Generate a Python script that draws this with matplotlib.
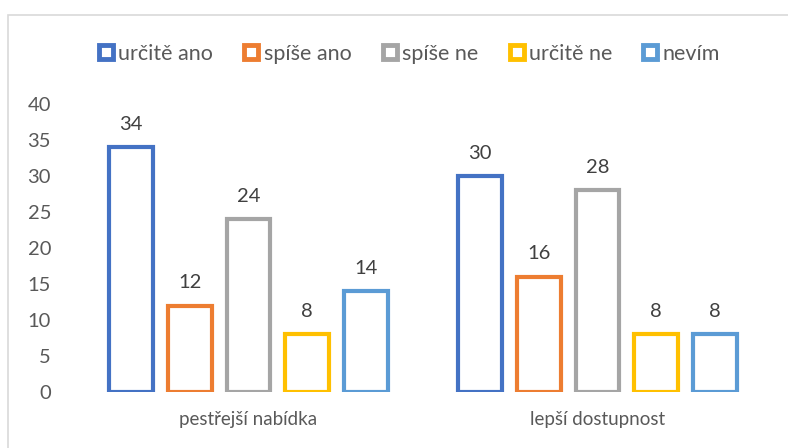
import numpy as np
import matplotlib.pyplot as plt
from matplotlib.lines import Line2D
from matplotlib.patches import Rectangle

plt.rcParams['font.family'] = ['Lato', 'DejaVu Sans']

kategorie = ['pestřejší nabídka', 'lepší dostupnost']
odpovedi = ['určitě ano', 'spíše ano', 'spíše ne', 'určitě ne', 'nevím']
hodnoty = [
    [34, 30],
    [12, 16],
    [24, 28],
    [8, 8],
    [14, 8],
]
barvy = ['#4472C4', '#ED7D31', '#A5A5A5', '#FFC000', '#5B9BD5']
seda = '#595959'

fig = plt.figure(figsize=(7.88, 4.48), dpi=100)
ax = fig.add_axes([74/788, 56/448, 698/788, 288/448])

# ramecek grafu
fig.patches.append(Rectangle((8/788, -0.1), 1.0, (433 + 0.1*448)/448,
                             transform=fig.transFigure, fill=False,
                             edgecolor='#d9d9d9', lw=1.2))

x = np.arange(len(kategorie))
krok = 0.168
sirka = 0.125
for i, (nazev, h) in enumerate(zip(odpovedi, hodnoty)):
    pos = x + (i - 2) * krok
    ax.bar(pos, h, width=sirka, facecolor='white', edgecolor=barvy[i],
           linewidth=3.0, label=nazev)
    for px, v in zip(pos, h):
        ax.annotate(str(v), (px, v), xytext=(0, 12.5), textcoords='offset points',
                    ha='center', va='baseline', fontsize=14.5, color='#404040')

ax.set_xlim(-0.5, 1.5)
ax.set_ylim(0, 40)
ax.set_yticks(range(0, 41, 5))
ax.set_xticks(x)
ax.set_xticklabels(kategorie, fontsize=13.5)
ax.tick_params(axis='both', length=0, labelcolor=seda)
ax.tick_params(axis='y', labelsize=14.5, pad=16.5)
ax.tick_params(axis='x', pad=14)
for s in ax.spines.values():
    s.set_visible(False)

handles = [Line2D([], [], marker='s', linestyle='none', markersize=9.5,
                  markerfacecolor='white', markeredgecolor=c, markeredgewidth=3.5)
           for c in barvy]
fig.legend(handles, odpovedi, loc='center', bbox_to_anchor=(409/788, 1 - 54/448),
           ncol=5, frameon=False, fontsize=15.5, labelcolor=seda,
           handlelength=0.75, handletextpad=0.2, columnspacing=1.4)

fig.savefig('out.png', dpi=100)
